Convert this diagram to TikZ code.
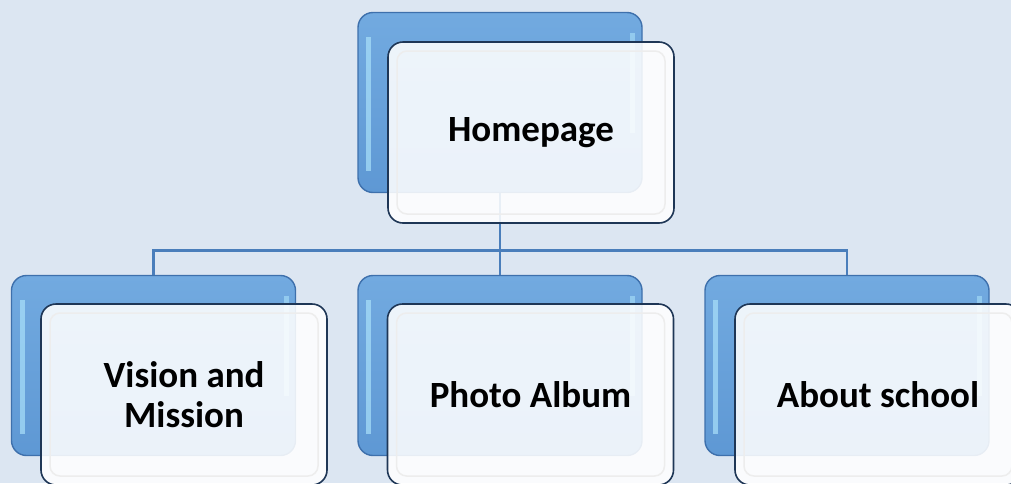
\documentclass[tikz,border=0pt]{standalone}
\usepackage{fontspec}
\setmainfont{Carlito}
\definecolor{bgblue}{RGB}{220,230,242}
\definecolor{boxtop}{RGB}{114,170,224}
\definecolor{boxbot}{RGB}{94,152,212}
\definecolor{boxedge}{RGB}{62,112,172}
\definecolor{frontedge}{RGB}{30,54,86}
\definecolor{linkblue}{RGB}{74,126,187}
\definecolor{shine}{RGB}{170,225,250}

\begin{document}
\begin{tikzpicture}[x=1pt,y=-1pt]
        \tikzstyle{backbox}=[rectangle,rounded corners=15pt,draw=boxedge,line width=1.4pt,top color=boxtop,bottom color=boxbot,minimum width=284pt,minimum height=180pt,inner sep=0pt,
          path picture={\fill[shine,opacity=.7,sharp corners] ([xshift=8pt,yshift=-24pt]path picture bounding box.north west) rectangle ([xshift=13pt,yshift=22pt]path picture bounding box.south west);
                        \fill[shine,opacity=.6,sharp corners] ([xshift=-12pt,yshift=-20pt]path picture bounding box.north east) rectangle ([xshift=-7pt,yshift=60pt]path picture bounding box.south east);}]
        \tikzstyle{frontbox}=[rectangle,rounded corners=15pt,draw=frontedge,line width=1.6pt,fill=white,fill opacity=.88,text opacity=1,minimum width=286pt,minimum height=181pt,inner sep=0pt,align=center,font=\fontsize{37}{40}\selectfont\bfseries,
          path picture={\draw[black!7,line width=1.5pt,rounded corners=10pt] ([xshift=9pt,yshift=-9pt]path picture bounding box.north west) rectangle ([xshift=-9pt,yshift=9pt]path picture bounding box.south east);}]
        \tikzstyle{link}=[draw=linkblue,line width=2.2pt]
        \useasboundingbox (0,0) rectangle (1011,483);
        \fill[bgblue] (0,0) rectangle (1011,483);
        \clip (0,0) rectangle (1011,483);
        \begin{scope}
           % back boxes
           \node [backbox] (homeb) at (500,102.5) {};
           \node [backbox] (visionb) at (153.5,365.5) {};
           \node [backbox] (photob) at (500,365.5) {};
           \node [backbox] (aboutb) at (847,365.5) {};
           % connectors
           \coordinate (bus) at (500,250.5);
           \path[link] (homeb.south) -- (bus);
           \path[link] (visionb.north) |- (bus) -| (aboutb.north);
           \path[link] (bus) -- (photob.north);
           % front boxes
           \node [frontbox] (home) at (531,132.5) {Homepage};
           \node [frontbox] (vision) at (184,394.5) {Vision and\\Mission};
           \node [frontbox] (photo) at (530.5,394.5) {Photo Album};
           \node [frontbox] (about) at (878,394.5) {About school};
        \end{scope}
\end{tikzpicture}
\end{document}
